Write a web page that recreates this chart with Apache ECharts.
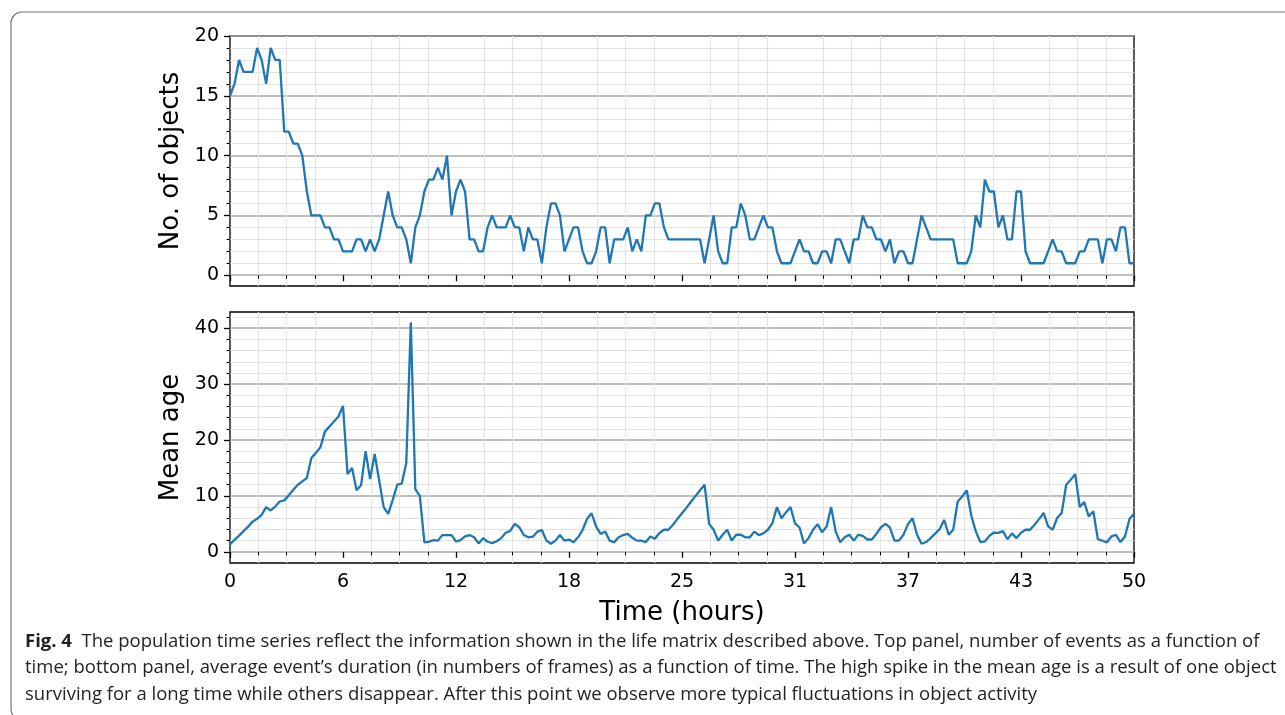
<!DOCTYPE html>
<html>
<head>
    <meta charset="utf-8">
    <title>Fig. 4 population time series</title>
    <script src="https://cdn.jsdelivr.net/npm/echarts@6/dist/echarts.min.js"></script>
    <style>
        html, body { margin: 0; padding: 0; background: #fff; }
        #chart { width: 1285px; height: 715px; }
    </style>
</head>
<body>
    <div id="chart"></div>
    <script type="text/javascript">
        // one sample every 15 minutes, 0 .. 50 hours
        var hoursPerSample = 0.25;

        // top panel: number of objects per sample
        var objectCounts = [
            15,16,18,17,17,17,19,18,16,19,18,18,
            12,12,11,11,10,7,5,5,5,4,4,3,
            3,2,2,2,3,3,2,3,2,3,5,7,
            5,4,4,3,1,4,5,7,8,8,9,8,10,5,7,8,
            7,3,3,2,2,4,5,4,4,4,5,4,
            4,2,4,3,3,1,4,6,6,5,2,3,
            4,4,2,1,1,2,4,4,1,3,3,3,
            4,2,3,2,5,5,6,6,4,3,3,3,
            3,3,3,3,3,1,3,5,2,1,1,4,
            4,6,5,3,3,4,5,4,4,2,1,1,
            1,2,3,2,2,1,1,2,2,1,3,3,
            2,1,3,3,5,4,4,3,3,2,3,1,
            2,2,1,1,3,5,4,3,3,3,3,3,
            3,1,1,1,2,5,4,8,7,7,4,5,
            3,3,7,7,2,1,1,1,1,2,3,2,
            2,1,1,1,2,2,3,3,3,1,3,3,
            2,4,4,1,1
        ];

        // bottom panel: mean age per sample
        var meanAges = [
            1.3,2.15,2.9,3.7,4.5,5.4,5.9,6.6,8.0,7.4,8.1,9.0,
            9.2,10.1,11.1,12.0,12.6,13.2,16.8,17.7,18.7,21.5,22.4,23.3,
            24.2,26.1,13.9,15.0,11.0,11.9,18.0,13.0,17.5,12.8,8.0,6.8,
            9.3,12.0,12.2,15.9,41.0,11.2,10.0,1.7,1.8,2.1,2.0,3.0,
            3.0,3.0,1.85,2.1,2.75,3.0,2.6,1.5,2.45,1.8,1.55,1.9,
            2.45,3.4,3.75,5.0,4.4,3.0,2.6,2.7,3.6,3.9,2.0,1.45,
            2.0,3.0,2.0,2.2,1.7,2.6,3.9,5.9,6.9,4.5,3.2,3.65,
            2.0,1.7,2.6,3.0,3.2,2.5,2.0,2.0,1.75,2.75,2.35,3.35,
            3.95,3.95,4.85,5.9,6.9,7.9,8.95,10.0,11.0,12.0,5.0,3.95,
            2.0,3.05,3.95,2.0,3.05,3.05,2.6,2.6,3.6,3.0,3.3,3.95,
            5.15,8.0,6.0,7.05,8.0,5.1,4.35,1.5,2.45,3.95,4.95,3.5,
            4.55,8.0,3.65,1.7,2.6,3.05,2.0,3.05,2.85,2.2,2.2,3.2,
            4.35,5.0,4.35,2.0,2.0,3.05,4.95,6.0,3.05,1.45,1.75,2.45,
            3.25,4.05,5.7,3.05,3.95,9.0,9.9,11.0,6.5,3.65,1.75,1.85,
            2.85,3.45,3.4,3.7,2.25,3.3,2.45,3.4,3.95,3.95,4.85,5.85,
            6.95,4.55,3.95,6.05,6.95,12.0,12.9,13.9,8.0,8.9,6.3,7.25,
            2.25,2.0,1.7,2.75,3.05,1.75,2.75,5.85,6.8
        ];

        var timeTickLabels = ['0', '6', '12', '18', '25', '31', '37', '43', '50'];
        var countTicks = [0, 5, 10, 15, 20];
        var ageTicks = [0, 10, 20, 30, 40];

        var captionLines = [
            '{b|Fig. 4}  The population time series reflect the information shown in the life matrix described above. Top panel, number of events as a function of',
            'time; bottom panel, average event\u2019s duration (in numbers of frames) as a function of time. The high spike in the mean age is a result of one object',
            'surviving for a long time while others disappear. After this point we observe more typical fluctuations in object activity'
        ];

        function withTime(values) {
            return values.map(function (v, i) { return [i * hoursPerSample, v]; });
        }

        var mplFont = 'DejaVu Sans';
        var capFont = 'Open Sans';

        function timeAxis(idx, showLabels) {
            return {
                type: 'value',
                gridIndex: idx,
                min: 0,
                max: 50,
                interval: 6.25,
                axisLine: { show: false },
                axisTick: { show: true, length: 6, lineStyle: { color: '#000', width: 1.3 } },
                minorTick: { show: true, splitNumber: 4, length: 3.5, lineStyle: { color: '#000', width: 1.1 } },
                axisLabel: {
                    show: showLabels,
                    margin: 10,
                    fontFamily: mplFont,
                    fontSize: 19,
                    color: '#000',
                    formatter: function (value) { return timeTickLabels[Math.round(value / 6.25)]; }
                },
                splitLine: { show: false },
                minorSplitLine: { show: true, lineStyle: { color: '#e3e3e3', width: 1.2 } },
                name: showLabels ? 'Time (hours)' : '',
                nameLocation: 'middle',
                nameGap: 37,
                nameTextStyle: { fontFamily: mplFont, fontSize: 26, color: '#000' }
            };
        }

        function valueAxis(idx, min, max, ticks, minorSplit, title) {
            return {
                type: 'value',
                gridIndex: idx,
                min: min,
                max: max,
                axisLine: { show: false },
                axisTick: { show: true, length: 6, customValues: ticks, lineStyle: { color: '#000', width: 1.3 } },
                minorTick: { show: true, splitNumber: minorSplit, length: 3.5, lineStyle: { color: '#000', width: 1.1 } },
                axisLabel: {
                    margin: 11,
                    customValues: ticks,
                    fontFamily: mplFont,
                    fontSize: 19,
                    color: '#000'
                },
                splitLine: { show: true, lineStyle: { color: '#aaaaaa', width: 1.5 } },
                minorSplitLine: { show: true, lineStyle: { color: '#e3e3e3', width: 1.2 } },
                name: title,
                nameLocation: 'middle',
                nameGap: 42,
                nameTextStyle: { fontFamily: mplFont, fontSize: 26, color: '#000' }
            };
        }

        var myChart = echarts.init(document.getElementById('chart'), null, { renderer: 'canvas' });

        var option = {
            animation: false,
            backgroundColor: '#fff',
            grid: [
                { left: 230, top: 36, width: 904, height: 250, show: true, borderColor: '#000', borderWidth: 1.3, backgroundColor: 'transparent' },
                { left: 230, top: 312, width: 904, height: 251, show: true, borderColor: '#000', borderWidth: 1.3, backgroundColor: 'transparent' }
            ],
            xAxis: [timeAxis(0, false), timeAxis(1, true)],
            yAxis: [
                valueAxis(0, -0.9, 20, countTicks, 5, 'No. of objects'),
                valueAxis(1, -2, 42.9, ageTicks, 5, 'Mean age')
            ],
            series: [
                {
                    name: 'No. of objects',
                    type: 'line',
                    xAxisIndex: 0,
                    yAxisIndex: 0,
                    data: withTime(objectCounts),
                    showSymbol: false,
                    lineStyle: { color: '#1f77b4', width: 2.3 },
                    itemStyle: { color: '#1f77b4' }
                },
                {
                    name: 'Mean age',
                    type: 'line',
                    xAxisIndex: 1,
                    yAxisIndex: 1,
                    data: withTime(meanAges),
                    showSymbol: false,
                    lineStyle: { color: '#1f77b4', width: 2.3 },
                    itemStyle: { color: '#1f77b4' }
                }
            ],
            graphic: [
                {
                    type: 'rect',
                    shape: { x: 11, y: 12, width: 1300, height: 708, r: 11 },
                    style: { fill: 'none', stroke: '#777', lineWidth: 1.2 },
                    silent: true,
                    z: -1
                }
            ].concat(captionLines.map(function (line, k) {
                return {
                    type: 'text',
                    left: 25,
                    top: 632 + k * 26.5,
                    silent: true,
                    style: {
                        text: line,
                        fontFamily: capFont,
                        fontSize: 18.5,
                        fill: '#231f20',
                        rich: {
                            b: { fontFamily: capFont, fontSize: 18.5, fontWeight: 'bold', fill: '#231f20' }
                        }
                    }
                };
            }))
        };

        myChart.setOption(option);
    </script>
</body>
</html>
